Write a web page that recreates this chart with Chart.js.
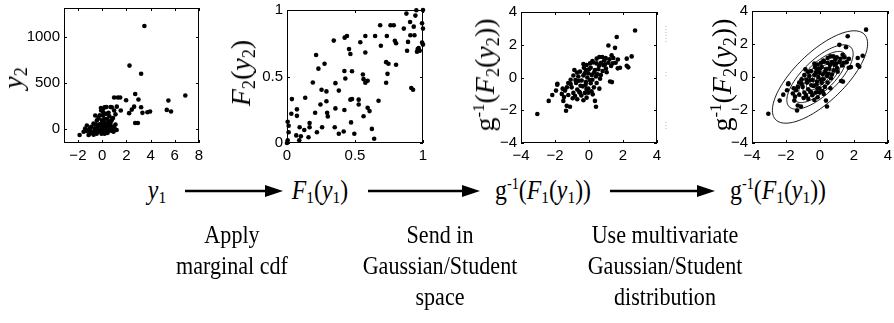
<!DOCTYPE html>
<html>
<head>
<meta charset="utf-8">
<script src="https://cdn.jsdelivr.net/npm/chart.js@4.4.1/dist/chart.umd.min.js"></script>
<style>
body { margin:0; background:#fff; width:894px; height:323px; position:relative; overflow:hidden; font-family:"Liberation Serif","Times New Roman",serif; color:#000; }
canvas { position:absolute; }
.ylab { position:absolute; transform:translate(-50%,-50%) rotate(-90deg); font-size:28px; white-space:nowrap; line-height:1; }
.fx { position:absolute; transform:translate(-50%,-50%) scaleX(0.88); font-size:27px; white-space:nowrap; line-height:1; }
.note { position:absolute; transform:translate(-50%,0) scaleX(0.85); font-size:26px; line-height:31px; text-align:center; white-space:nowrap; }
sub { font-size:0.65em; vertical-align:-0.25em; line-height:0; }
sup { font-size:0.6em; vertical-align:0.6em; line-height:0; }
svg { position:absolute; left:0; top:0; }
</style>
</head>
<body>

<canvas id="c1"></canvas>
<canvas id="c2"></canvas>
<canvas id="c3"></canvas>
<canvas id="c4"></canvas>

<div class="ylab" style="left:13px; top:78px;"><i>y</i><sub>2</sub></div>
<div class="ylab" style="left:241px; top:73px;"><i>F</i><sub>2</sub>(<i>y</i><sub>2</sub>)</div>
<div class="ylab" style="left:485px; top:75px;">g<sup>-1</sup>(<i>F</i><sub>2</sub>(<i>y</i><sub>2</sub>))</div>
<div class="ylab" style="left:722px; top:75px;">g<sup>-1</sup>(<i>F</i><sub>2</sub>(<i>y</i><sub>2</sub>))</div>

<div class="fx" style="left:157px; top:190px;"><i>y</i><sub>1</sub></div>
<div class="fx" style="left:320px; top:190px;"><i>F</i><sub>1</sub>(<i>y</i><sub>1</sub>)</div>
<div class="fx" style="left:543px; top:190px;">g<sup>-1</sup>(<i>F</i><sub>1</sub>(<i>y</i><sub>1</sub>))</div>
<div class="fx" style="left:778px; top:190px;">g<sup>-1</sup>(<i>F</i><sub>1</sub>(<i>y</i><sub>1</sub>))</div>

<svg id="arrows" width="894" height="323"></svg>

<div class="note" style="left:232px; top:219px;">Apply<br>marginal cdf</div>
<div class="note" style="left:440px; top:219px;">Send in<br>Gaussian/Student<br>space</div>
<div class="note" style="left:665px; top:219px;">Use multivariate<br>Gaussian/Student<br>distribution</div>

<script>
// raw sample (y1, y2)
var rawSample = [
  [3.49,1116],[2.26,687],[3.22,599],[2.73,380],[3.0,320],[1.98,313],[6.87,363],[5.47,310],[5.34,208],[5.69,190],
  [0.99,342],[1.3,342],[1.49,342],[0.8,236],[1.21,243],[0.99,201],[1.54,201],[0.53,176],[0.34,165],[0.06,218],
  [-0.1,229],[2.45,211],[2.64,243],[2.23,173],[3.22,236],[3.33,176],[3.74,183],[3.96,190],[2.73,67],[2.95,67],
  [0.2,235],[0.35,240],[0.7,240],[1.1,160],[0.6,140],[0.9,120],
  [-1.86,-63],[-1.4,7],[-1.26,39],[-1.12,-11],[-0.98,-46],[-0.9,25],[-0.71,60],[-0.63,-11],[-0.57,148],[-0.43,95],
  [-0.35,25],[-0.3,-28],[-0.21,53],[-0.08,7],[-0.02,95],[0.03,-28],[0.12,42],[0.2,113],[0.25,4],[0.31,60],
  [0.39,-18],[0.47,32],[0.53,88],[0.61,-11],[0.66,42],[0.75,-18],[0.86,25],[0.94,-28],[-0.9,-28],[-1.53,-28],
  [-1.12,-63],[0.06,148],[-0.08,201],[-0.52,53],[-1.0,10],[-0.8,-40],[-0.7,-60],[-0.55,-20],[-0.45,-50],[-0.2,-10],
  [-0.1,30],[0.1,-5],[0.15,70],[0.3,20],[0.45,-40],[0.55,10],[0.7,70],[0.8,100],[0.9,-5],[1.0,20],
  [1.1,50],[-0.3,120],[0.0,60],[0.2,-50],[-0.6,10],[-1.3,-20],[0.4,110],[0.1,180],[-0.2,150],[1.2,-10],
  [0.35,-30],[-0.05,-50],[0.5,60],[-0.4,-5]
];

// after the marginal cdf (F1(y1), F2(y2))
var cdfSample = [
  [0.005,0.16],[0.012,0.13],[0.012,0.081],[0.005,0.02],[0.0,0.0],[0.036,0.33],[0.032,0.22],[0.073,0.253],[0.073,0.204],[0.068,0.057],
  [0.093,0.118],[0.102,0.05],[0.09,0.02],[0.127,0.098],[0.166,0.118],[0.134,0.34],[0.158,0.043],[0.166,0.15],[0.19,0.455],[0.207,0.228],
  [0.214,0.662],[0.231,0.559],[0.22,0.081],[0.246,0.29],[0.254,0.4],[0.258,0.118],[0.276,0.596],[0.29,0.388],[0.29,0.314],[0.295,0.228],
  [0.3,0.2],[0.344,0.77],[0.356,0.45],[0.356,0.26],[0.351,0.118],[0.381,0.394],[0.381,0.069],[0.417,0.086],[0.422,0.541],[0.429,0.485],
  [0.424,0.792],[0.441,0.804],[0.422,0.248],[0.456,0.706],[0.466,0.669],[0.466,0.326],[0.478,0.539],[0.478,0.331],[0.471,0.155],[0.495,0.069],
  [0.527,0.326],[0.527,0.29],[0.539,0.757],[0.558,0.515],[0.563,0.48],[0.563,0.201],[0.576,0.804],[0.576,0.681],[0.576,0.453],[0.593,0.468],
  [0.593,0.265],[0.607,0.24],[0.624,0.106],[0.641,0.032],[0.648,0.804],[0.673,0.318],[0.69,0.731],[0.685,0.885],[0.729,0.608],[0.734,0.804],
  [0.739,0.52],[0.746,0.596],[0.729,0.453],[0.761,0.885],[0.785,0.885],[0.793,0.768],[0.802,0.75],[0.802,0.588],[0.859,0.86],[0.878,0.973],
  [0.883,0.694],[0.89,0.76],[0.907,0.81],[0.914,0.414],[0.927,0.4],[0.905,0.91],[0.932,0.875],[0.937,0.81],[0.944,0.958],[0.951,0.998],
  [0.961,0.706],[0.956,0.686],[0.968,0.713],[0.976,0.694],[0.993,0.755],[0.993,0.9],[1.0,1.0],[1.0,0.86],[1.0,0.74]
];

// in Gaussian/Student space (g^-1(F1), g^-1(F2))
var gaussSample = [
  [2.71,2.87],[1.63,2.47],[1.14,1.95],[1.53,1.81],[2.51,1.29],[2.22,1.15],[0.78,1.25],[0.61,1.25],[0.45,1.15],[0.98,1.19],
  [1.33,1.35],[1.43,1.19],[1.2,1.11],[-0.33,0.82],[-0.14,0.76],[0.06,0.86],[0.25,0.92],[0.45,0.86],[0.71,0.9],[0.94,0.8],
  [1.14,0.9],[1.39,0.86],[1.57,0.9],[2.22,0.72],[2.31,0.62],[1.82,0.6],[1.69,0.56],[-0.86,0.46],[-0.53,0.36],[-0.18,0.46],
  [0.1,0.6],[0.35,0.46],[0.55,0.5],[0.8,0.4],[1.04,0.32],[0.59,0.72],[-0.04,0.26],[-0.92,0.12],[-0.63,0.06],[-0.33,0.12],
  [-0.1,0],[0.16,0.16],[0.41,0.06],[0.65,-0.08],[-1.08,-0.14],[-0.43,-0.18],[0.2,-0.14],[1.24,-0.24],[1.35,-0.28],[-1.86,-0.38],
  [-1.22,-0.34],[-0.76,-0.34],[-0.18,-0.28],[0.45,-0.34],[-3.04,-2.23],[-2.37,-1.43],[-2.16,-1.07],[-1.87,-0.44],[-1.94,-0.8],[-1.55,-0.68],
  [-1.41,-0.8],[-1.08,-0.4],[-1.51,-1.43],[-1.47,-1.19],[-1.22,-1.07],[-1.31,-1.73],[-1.12,-1.79],[-1.35,-2.03],[-0.82,-1.13],[-0.96,-1.27],
  [-0.69,-1.33],[-0.53,-0.93],[-0.33,-1.39],[-0.14,-1.23],[-0.04,-0.93],[0.22,-1.03],[0.35,-1.43],[0.41,-1.79],[-1.02,-0.6],[-0.69,-0.74],
  [-0.37,-0.54],[-0.04,-0.68],[0.29,-0.6],[0.61,-0.68],[-0.57,-0.88],[-0.92,-0.94],[-0.24,-0.94],[-0.8,-0.15],[-0.5,-0.5],[-0.2,-0.45],
  [0.1,-0.35],[0.3,0.3],[0.0,0.5],[-0.3,0.6],[-0.6,-0.2],[0.5,0.2],[0.85,0.75],[1.0,0.55],[0.7,0.15],[-0.15,-0.7],
  [0.15,-0.85],[-0.45,-1.1],[-0.7,0.3],[0.2,1.0],[1.3,0.7],[0.05,-0.15],[-1.3,-0.6],[-1.6,-1.0],[1.7,1.1],[0.9,1.05],[-0.25,0.25]
];

var rawXTicks = [-2, 0, 2, 4, 6, 8];
var rawYTicks = [0, 500, 1000];
var cdfTicks = [0, 0.5, 1];
var gaussTicks = [-4, -2, 0, 2, 4];

// fitted bivariate density: correlation and contour radii (in std units)
var fitRho = 0.72;
var contourLevels = [2.8, 1.95, 1.55, 1.25, 1.0, 0.8, 0.6, 0.4, 0.2];

function fmt(v){
  return v < 0 ? '\u2212' + Math.abs(v) : String(v);
}

// matlab style box with inward ticks
var boxPlugin = {
  id: 'matlabBox',
  afterDraw: function(chart){
    var a = chart.chartArea, ctx = chart.ctx;
    var sx = chart.scales.x, sy = chart.scales.y;
    ctx.save();
    ctx.strokeStyle = '#000';
    ctx.lineWidth = 1;
    ctx.strokeRect(a.left + 0.5, a.top + 0.5, a.right - a.left - 1, a.bottom - a.top - 1);
    ctx.beginPath();
    sx.ticks.forEach(function(t){
      var px = Math.round(sx.getPixelForValue(t.value)) + 0.5;
      ctx.moveTo(px, a.bottom); ctx.lineTo(px, a.bottom - 3);
      ctx.moveTo(px, a.top); ctx.lineTo(px, a.top + 3);
    });
    sy.ticks.forEach(function(t){
      var py = Math.round(sy.getPixelForValue(t.value)) + 0.5;
      ctx.moveTo(a.left, py); ctx.lineTo(a.left + 3, py);
      ctx.moveTo(a.right, py); ctx.lineTo(a.right - 3, py);
    });
    ctx.stroke();
    ctx.restore();
  }
};

var contourPlugin = {
  id: 'contours',
  beforeDatasetsDraw: function(chart){
    var ctx = chart.ctx, sx = chart.scales.x, sy = chart.scales.y;
    var a = Math.sqrt(1 + fitRho), b = Math.sqrt(1 - fitRho);
    ctx.save();
    ctx.strokeStyle = '#000';
    ctx.lineWidth = 0.9;
    contourLevels.forEach(function(m){
      ctx.beginPath();
      for (var i = 0; i <= 120; i++) {
        var t = i / 120 * Math.PI * 2;
        var u = m * a * Math.cos(t), w = m * b * Math.sin(t);
        var x = (u - w) / Math.SQRT2, y = (u + w) / Math.SQRT2;
        var px = sx.getPixelForValue(x), py = sy.getPixelForValue(y);
        if (i === 0) ctx.moveTo(px, py); else ctx.lineTo(px, py);
      }
      ctx.stroke();
    });
    ctx.restore();
  }
};

var YW = 44, XH = 26, PADT = 10, PADR = 12;

function makePanel(id, box, sample, xr, yr, xTicks, yTicks, plugins){
  var cv = document.getElementById(id);
  var w = YW + (box[2] - box[0]) + PADR;
  var h = PADT + (box[3] - box[1]) + XH;
  cv.width = w; cv.height = h;
  cv.style.left = (box[0] - YW) + 'px';
  cv.style.top = (box[1] - PADT) + 'px';
  cv.style.width = w + 'px';
  cv.style.height = h + 'px';

  var tickFont = { family: '"Liberation Sans", Arial, sans-serif', size: 15 };

  return new Chart(cv, {
    type: 'scatter',
    data: {
      datasets: [{
        data: sample.map(function(p){ return { x: p[0], y: p[1] }; }),
        backgroundColor: '#000',
        borderWidth: 0,
        pointRadius: 2.3,
        pointHoverRadius: 2.3,
        clip: false
      }]
    },
    options: {
      responsive: false,
      animation: false,
      devicePixelRatio: 1,
      layout: { padding: { top: PADT, right: PADR, left: 0, bottom: 0 } },
      plugins: { legend: { display: false }, tooltip: { enabled: false } },
      events: [],
      scales: {
        x: {
          type: 'linear', min: xr[0], max: xr[1],
          grid: { display: false, drawTicks: false },
          border: { display: false },
          ticks: { color: '#000', font: tickFont, padding: 4, maxRotation: 0, callback: fmt },
          afterBuildTicks: function(s){ s.ticks = xTicks.map(function(v){ return { value: v }; }); },
          afterFit: function(s){ s.height = XH; }
        },
        y: {
          type: 'linear', min: yr[0], max: yr[1],
          grid: { display: false, drawTicks: false },
          border: { display: false },
          ticks: { color: '#000', font: tickFont, padding: 4, callback: fmt },
          afterBuildTicks: function(s){ s.ticks = yTicks.map(function(v){ return { value: v }; }); },
          afterFit: function(s){ s.width = YW; }
        }
      }
    },
    plugins: plugins
  });
}

makePanel('c1', [64, 5, 199, 143], rawSample, [-3.15, 8], [-150, 1310], rawXTicks, rawYTicks, [boxPlugin]);
makePanel('c2', [287, 7, 423, 143], cdfSample, [0, 1], [0, 1], cdfTicks, cdfTicks, [boxPlugin]);
makePanel('c3', [521, 9, 657, 143], gaussSample, [-4, 4], [-4, 4], gaussTicks, gaussTicks, [boxPlugin]);
makePanel('c4', [752, 8, 888, 143], gaussSample, [-4, 4], [-4, 4], gaussTicks, gaussTicks, [contourPlugin, boxPlugin]);

// arrows between the stages
var arrowSpans = [[185, 283], [368, 480], [610, 715]];
var svg = document.getElementById('arrows');
var ns = 'http://www.w3.org/2000/svg';
arrowSpans.forEach(function(s){
  var y = 191;
  var line = document.createElementNS(ns, 'line');
  line.setAttribute('x1', s[0]); line.setAttribute('y1', y);
  line.setAttribute('x2', s[1] - 10); line.setAttribute('y2', y);
  line.setAttribute('stroke', '#000'); line.setAttribute('stroke-width', '2.6');
  svg.appendChild(line);
  var head = document.createElementNS(ns, 'polygon');
  head.setAttribute('points', (s[1] - 18) + ',' + (y - 6) + ' ' + s[1] + ',' + y + ' ' + (s[1] - 18) + ',' + (y + 6));
  head.setAttribute('fill', '#000');
  svg.appendChild(head);
});

// faint leftover tick marks seen right of the third panel
[[26, 42], [72, 78], [122, 130]].forEach(function(r){
  var l = document.createElementNS(ns, 'line');
  l.setAttribute('x1', 666); l.setAttribute('y1', r[0]);
  l.setAttribute('x2', 666); l.setAttribute('y2', r[1]);
  l.setAttribute('stroke', '#bbb'); l.setAttribute('stroke-width', '1');
  l.setAttribute('stroke-dasharray', '1,2');
  svg.appendChild(l);
});
</script>
</body>
</html>
